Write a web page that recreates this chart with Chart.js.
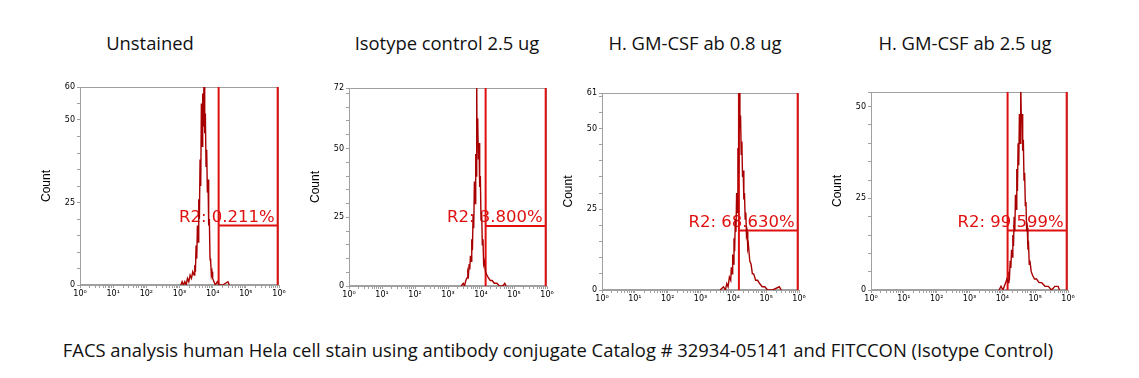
<!DOCTYPE html>
<html>
<head>
<meta charset="utf-8">
<script src="https://cdn.jsdelivr.net/npm/chart.js@4"></script>
<style>
  body { margin: 0; background: #fff; width: 1139px; height: 378px; position: relative; overflow: hidden; font-family: "Open Sans", sans-serif; color: #111; }
  .title { position: absolute; top: 33px; font-size: 18.4px; line-height: 20px; white-space: nowrap; transform: translateX(-50%); }
  .panel { position: absolute; }
  #caption { position: absolute; top: 340px; left: 558px; font-size: 18.4px; line-height: 20px; white-space: nowrap; transform: translateX(-50%); }
</style>
</head>
<body>
<div id="root"></div>
<div id="caption">FACS analysis human Hela cell stain using antibody conjugate Catalog # 32934-05141 and FITCCON (Isotype Control)</div>
<script>
// panel titles and gate labels
const titles = ['Unstained', 'Isotype control 2.5 ug', 'H. GM-CSF ab 0.8 ug', 'H. GM-CSF ab 2.5 ug'];
const gateLabels = ['R2: 0.211%', 'R2: 3.800%', 'R2: 68.630%', 'R2: 99.599%'];

// fluorescence channel, in decades (10^x), and event counts
const exp1 = [3.04, 3.08, 3.12, 3.16, 3.20, 3.24, 3.28, 3.32, 3.36, 3.40, 3.44, 3.46, 3.48, 3.50, 3.52, 3.54, 3.56, 3.58, 3.60, 3.62, 3.64, 3.66, 3.68, 3.70, 3.72, 3.74, 3.76, 3.78, 3.80, 3.82, 3.84, 3.86, 3.88, 3.90, 3.92, 3.94, 3.96, 3.98, 4.00, 4.04, 4.08, 4.14, 4.20, 4.30, 4.46, 4.50];
const cnt1 = [0, 1, 0, 1, 0, 2, 1, 3, 2, 4, 3, 6, 4, 12, 8, 18, 13, 26, 20, 38, 30, 55, 42, 58, 48, 64, 46, 52, 36, 41, 28, 32, 18, 20, 8, 7, 3, 4, 2, 1, 0, 1, 0, 0, 1, 0];

const exp2 = [3.40, 3.46, 3.50, 3.54, 3.58, 3.60, 3.62, 3.64, 3.66, 3.68, 3.70, 3.72, 3.74, 3.76, 3.78, 3.80, 3.82, 3.84, 3.86, 3.87, 3.88, 3.90, 3.92, 3.94, 3.96, 3.98, 4.00, 4.02, 4.04, 4.06, 4.08, 4.10, 4.14, 4.18, 4.22, 4.28, 4.34, 4.40, 4.48, 4.56, 4.66, 4.72, 4.76];
const cnt2 = [0, 1, 0, 2, 3, 5, 4, 8, 6, 11, 9, 17, 13, 26, 21, 38, 30, 48, 40, 75, 52, 61, 46, 52, 36, 40, 24, 27, 15, 17, 8, 9, 5, 4, 3, 2, 2, 1, 1, 0, 0, 1, 0];

const exp3 = [3.60, 3.70, 3.76, 3.80, 3.84, 3.88, 3.92, 3.94, 3.96, 3.98, 4.00, 4.02, 4.04, 4.06, 4.08, 4.10, 4.12, 4.14, 4.16, 4.18, 4.20, 4.22, 4.24, 4.26, 4.28, 4.30, 4.32, 4.34, 4.36, 4.38, 4.40, 4.42, 4.44, 4.46, 4.50, 4.54, 4.58, 4.62, 4.68, 4.74, 4.80, 4.88, 4.96, 5.04, 5.20, 5.40, 5.46];
const cnt3 = [0, 1, 0, 2, 1, 4, 3, 7, 5, 11, 8, 16, 12, 22, 18, 30, 24, 44, 36, 64, 50, 54, 42, 46, 35, 37, 28, 30, 22, 24, 17, 18, 13, 14, 9, 8, 5, 5, 3, 3, 2, 1, 1, 0, 0, 1, 0];

const exp4 = [3.90, 3.96, 4.02, 4.06, 4.10, 4.14, 4.18, 4.20, 4.22, 4.24, 4.26, 4.28, 4.30, 4.32, 4.34, 4.36, 4.38, 4.40, 4.42, 4.44, 4.46, 4.48, 4.50, 4.52, 4.54, 4.56, 4.58, 4.60, 4.62, 4.64, 4.66, 4.68, 4.70, 4.72, 4.74, 4.76, 4.78, 4.80, 4.82, 4.84, 4.88, 4.92, 4.98, 5.04, 5.12, 5.20, 5.30, 5.40, 5.50, 5.60, 5.70, 5.74];
const cnt4 = [0, 1, 0, 1, 2, 3, 2, 5, 4, 8, 6, 11, 9, 15, 12, 20, 16, 26, 22, 33, 27, 40, 34, 48, 40, 56, 46, 48, 38, 41, 30, 32, 23, 24, 16, 17, 11, 12, 7, 8, 5, 4, 3, 3, 2, 2, 1, 1, 0, 1, 1, 0];

// R2 gate: low edge, high edge (decades) and marker level (count)
const gateLow = [4.18, 4.14, 4.17, 4.16];
const gateHigh = [5.96, 5.96, 5.96, 5.96];
const gateLevel = [18, 21.8, 18.4, 16.2];

// y axis ranges and labelled ticks
const yMax = [60, 72, 61, 54];
const yTickLabels = [[0, 25, 50, 60], [0, 25, 50, 72], [0, 25, 50, 61], [0, 25, 50]];
const xTickLabels = ['10⁰', '10¹', '10²', '10³', '10⁴', '10⁵', '10⁶'];

const exps = [exp1, exp2, exp3, exp4];
const cnts = [cnt1, cnt2, cnt3, cnt4];

// plot boxes on the page: left, right, top, bottom
const boxes = [[80, 279, 87, 285], [349, 547, 88, 286], [602, 799, 93, 290], [871, 1068, 92, 290]];
const titleX = [150, 447, 695, 965];

const Y_W = 45, X_H = 25, PAD_T = 10, PAD_R = 10;

// x tick marks: decades plus minor 2..9
const xTicks = [];
for (let d = 0; d < 6; d++) {
  for (let k = 1; k < 10; k++) xTicks.push(d + Math.log10(k));
}
xTicks.push(6);

const frame = {
  id: 'frame',
  beforeDatasetsDraw(chart, args, opts) {
    const { ctx, chartArea: a } = chart;
    ctx.save();
    ctx.strokeStyle = '#a0a0a0';
    ctx.lineWidth = 1;
    ctx.strokeRect(a.left + 0.5, a.top + 0.5, a.right - a.left - 1, a.bottom - a.top - 1);
    // gate label
    const x = chart.scales.x.getPixelForValue(opts.gateX) - 3;
    const y = chart.scales.y.getPixelForValue(opts.gateY) - 4;
    ctx.translate(x, y);
    ctx.scale(1.1, 1);
    ctx.font = '15px "DejaVu Sans"';
    ctx.fillStyle = '#e01010';
    ctx.textAlign = 'right';
    ctx.textBaseline = 'alphabetic';
    ctx.fillText(opts.text, 0, 0);
    ctx.restore();
  }
};

const root = document.getElementById('root');

titles.forEach((t, i) => {
  const d = document.createElement('div');
  d.className = 'title';
  d.style.left = titleX[i] + 'px';
  d.textContent = t;
  document.body.appendChild(d);
});

boxes.forEach((b, i) => {
  const [L, R, T, B] = b;
  const w = (R - L) + Y_W + PAD_R;
  const h = (B - T) + PAD_T + X_H;
  const wrap = document.createElement('div');
  wrap.className = 'panel';
  wrap.style.left = (L - Y_W) + 'px';
  wrap.style.top = (T - PAD_T) + 'px';
  const cv = document.createElement('canvas');
  cv.width = w;
  cv.height = h;
  wrap.appendChild(cv);
  root.appendChild(wrap);

  const hist = exps[i].map((x, j) => ({ x: x, y: cnts[i][j] }));
  const gL = gateLow[i], gR = gateHigh[i], lev = gateLevel[i], top = yMax[i];
  const gate = [
    { x: gL, y: 0 }, { x: gL, y: top }, { x: gL, y: null },
    { x: gR, y: 0 }, { x: gR, y: top }, { x: gR, y: null },
    { x: gL, y: lev }, { x: gR, y: lev }
  ];

  const yTicks = [];
  for (let v = 0; v < top; v += 5) yTicks.push(v);
  yTicks.push(top);

  new Chart(cv.getContext('2d'), {
    type: 'line',
    data: {
      datasets: [
        { data: hist, borderColor: '#a80000', borderWidth: 1.4, pointRadius: 0, tension: 0, fill: false },
        { data: gate, borderColor: '#e01010', borderWidth: 2, pointRadius: 0, tension: 0, fill: false, spanGaps: false }
      ]
    },
    options: {
      responsive: false,
      animation: false,
      devicePixelRatio: 1,
      layout: { padding: { left: 0, right: PAD_R, top: PAD_T, bottom: 0 } },
      plugins: {
        legend: { display: false },
        tooltip: { enabled: false },
        frame: { gateX: gR, gateY: lev, text: gateLabels[i] }
      },
      scales: {
        x: {
          type: 'linear', min: 0, max: 6,
          afterBuildTicks(s) { s.ticks = xTicks.map(v => ({ value: v })); },
          afterFit(s) { s.height = X_H; },
          ticks: {
            autoSkip: false, maxRotation: 0, padding: 1,
            font: { size: 8, family: 'DejaVu Sans' }, color: '#000',
            callback: v => (Math.abs(v - Math.round(v)) < 1e-9 ? xTickLabels[Math.round(v)] : '')
          },
          grid: { drawOnChartArea: false, tickLength: 3, color: '#a0a0a0' },
          border: { color: '#a0a0a0' }
        },
        y: {
          type: 'linear', min: 0, max: top,
          afterBuildTicks(s) { s.ticks = yTicks.map(v => ({ value: v })); },
          afterFit(s) { s.width = Y_W; },
          ticks: {
            autoSkip: false, padding: 2,
            font: { size: 8, family: 'DejaVu Sans' }, color: '#000',
            callback: v => (yTickLabels[i].includes(v) ? String(v) : '')
          },
          grid: { drawOnChartArea: false, tickLength: 3, color: '#a0a0a0' },
          border: { color: '#a0a0a0' },
          title: { display: true, text: 'Count', color: '#000', font: { size: 12, family: 'Liberation Sans' }, padding: { top: 4, bottom: 0 } }
        }
      }
    },
    plugins: [frame]
  });
});
</script>
</body>
</html>
